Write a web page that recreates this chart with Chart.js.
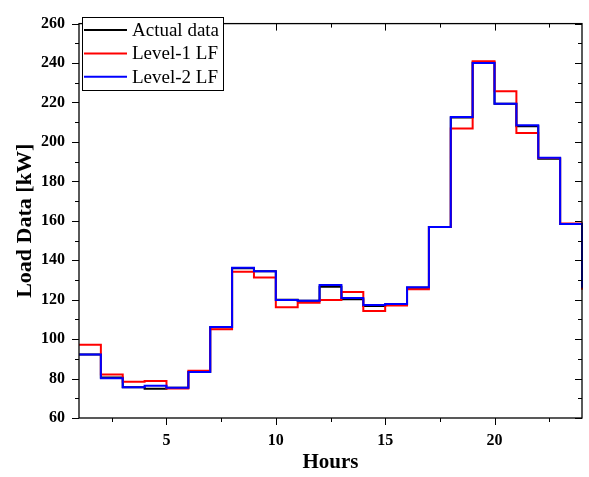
<!DOCTYPE html>
<html lang="en">
  <head>
    <meta charset="UTF-8" />
    <title>Load Data</title>
    <style>
      html, body {
        margin: 0;
        padding: 0;
        background: #ffffff;
      }
      #wrap {
        width: 589px;
        height: 477px;
      }
    </style>
    <script src="https://cdn.jsdelivr.net/npm/chart.js"></script>
  </head>
  <body>
    <div id="wrap"><canvas id="loadChart" width="589" height="477"></canvas></div>

    <script>
      // hours on the x axis
      const hours = [1, 2, 3, 4, 5, 6, 7, 8, 9, 10, 11, 12, 13, 14, 15, 16, 17, 18, 19, 20, 21, 22, 23, 24];

      // load values in kW
      const actualData = [92.2, 80.5, 75.6, 74.8, 75.3, 83.3, 106.0, 136.0, 134.4, 120.0, 119.5, 126.5,
                          120.2, 116.8, 117.6, 126.0, 156.8, 212.4, 240.3, 219.3, 208.0, 191.5, 158.4, 125.5];
      const level1LF = [97.1, 82.0, 78.4, 78.7, 75.0, 84.0, 105.0, 134.2, 131.3, 116.2, 118.5, 119.8,
                        123.9, 114.3, 117.0, 125.3, 156.8, 206.8, 240.9, 225.7, 204.5, 191.8, 158.6, 125.0];
      const level2LF = [92.2, 80.2, 75.6, 76.3, 75.3, 83.3, 106.2, 136.2, 134.4, 119.8, 119.5, 127.5,
                        120.9, 117.3, 117.8, 126.3, 156.8, 212.6, 240.0, 219.3, 208.4, 192.0, 158.4, 126.0];

      // tick values
      const xMajorTicks = [5, 10, 15, 20];
      const xMinorTicks = [2.5, 7.5, 12.5, 17.5, 22.5];
      const yMajorTicks = [60, 80, 100, 120, 140, 160, 180, 200, 220, 240, 260];
      const yMinorTicks = [70, 90, 110, 130, 150, 170, 190, 210, 230, 250];

      const serif = '"Liberation Serif", "Times New Roman", serif';

      const toPoints = (vals) => hours.map((h, i) => ({ x: h, y: vals[i] }));

      // frame, tick marks on all four sides
      const framePlugin = {
        id: 'frame',
        afterDraw(chart) {
          const { ctx, chartArea: a, scales: { x, y } } = chart;
          ctx.save();
          ctx.strokeStyle = '#000';
          ctx.lineWidth = 1.3;
          ctx.strokeRect(a.left, a.top, a.right - a.left, a.bottom - a.top);

          ctx.lineWidth = 1;
          ctx.beginPath();
          const xt = (v, len) => {
            const px = Math.round(x.getPixelForValue(v)) + 0.5;
            ctx.moveTo(px, a.bottom); ctx.lineTo(px, a.bottom + len);
            ctx.moveTo(px, a.top); ctx.lineTo(px, a.top + len);
          };
          const yt = (v, len) => {
            const py = Math.round(y.getPixelForValue(v)) + 0.5;
            ctx.moveTo(a.left, py); ctx.lineTo(a.left - len, py);
            ctx.moveTo(a.right, py); ctx.lineTo(a.right - len, py);
          };
          xMajorTicks.forEach(v => xt(v, 7));
          xMinorTicks.forEach(v => xt(v, 4));
          yMajorTicks.forEach(v => yt(v, 7));
          yMinorTicks.forEach(v => yt(v, 4));
          ctx.stroke();
          ctx.restore();
        }
      };

      // boxed legend in the upper left corner
      const boxLegend = {
        id: 'boxLegend',
        afterDraw(chart) {
          const { ctx } = chart;
          const order = [0, 1, 2];
          const left = 82, top = 17, w = 141, h = 73;
          ctx.save();
          ctx.fillStyle = '#fff';
          ctx.fillRect(left, top, w, h);
          ctx.strokeStyle = '#000';
          ctx.lineWidth = 1;
          ctx.strokeRect(left + 0.5, top + 0.5, w, h);
          ctx.font = '19px ' + serif;
          ctx.textBaseline = 'middle';
          ctx.textAlign = 'left';
          order.forEach((di, i) => {
            const ds = chart.data.datasets[di];
            const cy = 30 + i * 23.4;
            ctx.strokeStyle = ds.borderColor;
            ctx.lineWidth = 2;
            ctx.beginPath();
            ctx.moveTo(84, cy);
            ctx.lineTo(127, cy);
            ctx.stroke();
            ctx.fillStyle = '#000';
            ctx.fillText(ds.label, 132, cy + 1);
          });
          ctx.restore();
        }
      };

      new Chart(document.getElementById('loadChart'), {
        type: 'line',
        data: {
          datasets: [
            { label: 'Actual data', data: toPoints(actualData), borderColor: '#000000', order: 3 },
            { label: 'Level-1 LF', data: toPoints(level1LF), borderColor: '#ff0000', order: 2 },
            { label: 'Level-2 LF', data: toPoints(level2LF), borderColor: '#0000ff', order: 1 }
          ]
        },
        options: {
          responsive: false,
          animation: false,
          clip: 3,
          layout: { padding: { top: 12, right: 7, left: 0, bottom: 0 } },
          elements: {
            line: { borderWidth: 2, stepped: 'before', fill: false, tension: 0 },
            point: { radius: 0 }
          },
          plugins: {
            legend: { display: false },
            tooltip: { enabled: false }
          },
          scales: {
            x: {
              type: 'linear',
              min: 1,
              max: 24,
              afterBuildTicks: s => { s.ticks = xMajorTicks.map(v => ({ value: v })); },
              afterFit: s => { s.height = 59; },
              grid: { display: false, drawTicks: false },
              border: { display: false },
              ticks: {
                color: '#000',
                padding: 13,
                maxRotation: 0,
                font: { family: serif, size: 16, weight: 'bold' }
              },
              title: {
                display: true,
                text: 'Hours',
                color: '#000',
                padding: { top: 0, bottom: 2 },
                font: { family: serif, size: 21, weight: 'bold' }
              }
            },
            y: {
              min: 60,
              max: 260,
              afterBuildTicks: s => { s.ticks = yMajorTicks.map(v => ({ value: v })); },
              afterFit: s => { s.width = 79; },
              grid: { display: false, drawTicks: false },
              border: { display: false },
              ticks: {
                color: '#000',
                padding: 14,
                font: { family: serif, size: 16, weight: 'bold' }
              },
              title: {
                display: true,
                text: 'Load Data [kW]',
                color: '#000',
                padding: { top: 12, bottom: 0 },
                font: { family: serif, size: 22, weight: 'bold' }
              }
            }
          }
        },
        plugins: [framePlugin, boxLegend]
      });
    </script>
  </body>
</html>
